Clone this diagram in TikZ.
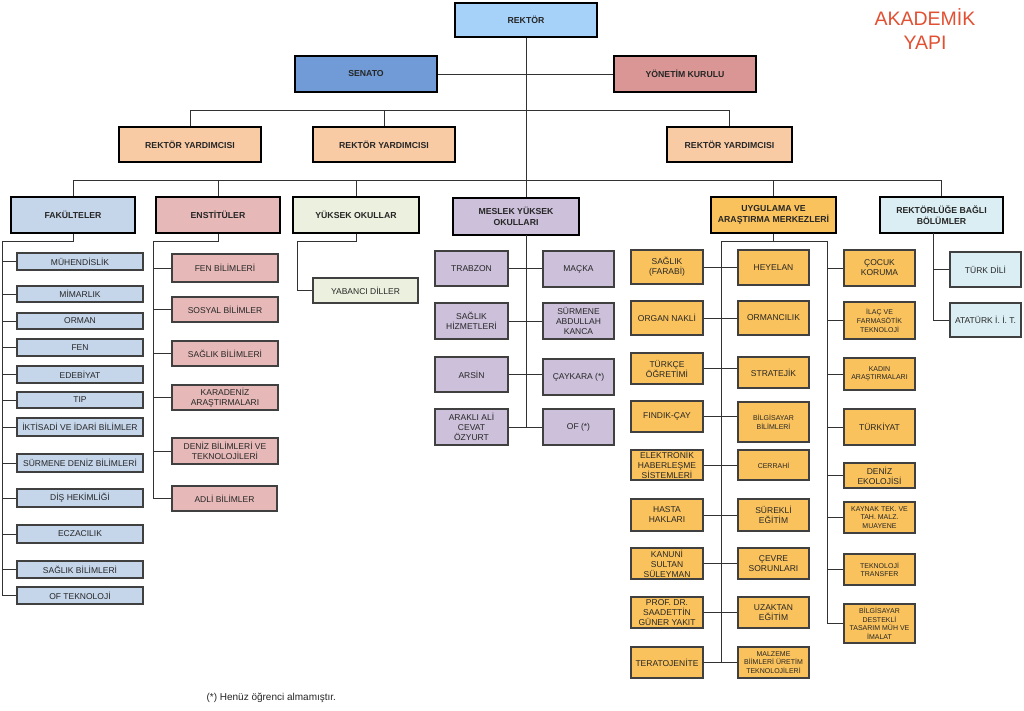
\documentclass[tikz,border=0pt]{standalone}
\usepackage{fontspec}
\setmainfont{Liberation Sans}
\definecolor{cRek}{RGB}{166,210,250}
\definecolor{cSen}{RGB}{112,155,214}
\definecolor{cYon}{RGB}{218,150,148}
\definecolor{cRy}{RGB}{248,203,165}
\definecolor{cFak}{RGB}{197,213,234}
\definecolor{cEns}{RGB}{230,185,184}
\definecolor{cYuk}{RGB}{235,241,222}
\definecolor{cMes}{RGB}{204,192,218}
\definecolor{cUyg}{RGB}{250,194,92}
\definecolor{cRb}{RGB}{219,238,244}
\definecolor{cLine}{RGB}{50,50,50}
\definecolor{cTitle}{RGB}{226,80,50}
\tikzset{
 base/.style={rectangle, align=center, inner sep=1pt, text=black!85},
 head/.style={base, draw=black, line width=2.4pt, font=\bfseries\fontsize{8.7}{10.5}\selectfont},
 child/.style={base, draw=black!75, line width=1.2pt, font=\fontsize{8.5}{10}\selectfont},
 small/.style={font=\fontsize{7}{8.6}\selectfont},
 conn/.style={draw=cLine, line width=0.9pt},
}
\newcommand\bx[7]{\node[#1,minimum width={#4-#2},minimum height={#5-#3}] (#6) at ({(#2+#4)/2},{(#3+#5)/2}) {#7};}
\begin{document}
\begin{tikzpicture}[x=1pt,y=-1pt]
\useasboundingbox[fill=white] (0,0) rectangle (1024,711);
% title
\node[text=cTitle, font=\fontsize{19.5}{24}\selectfont, align=center] (title) at (925,29) {AKADEM\.IK\\YAPI};
\node[anchor=west, font=\fontsize{10}{12}\selectfont, text=black!85] (note) at (203,698) {(*) Henüz öğrenci almamıştır.};
% top level
\bx{head,fill=cRek}{455}{3}{597}{37}{rektor}{REKTÖR}
\bx{head,fill=cSen}{295}{56}{437}{92}{senato}{SENATO}
\bx{head,fill=cYon}{614}{56}{756}{92}{yonetim}{YÖNET\.IM KURULU}
\bx{head,fill=cRy}{119}{127}{261}{162}{ry1}{REKTÖR YARDIMCISI}
\bx{head,fill=cRy}{313}{127}{455}{162}{ry2}{REKTÖR YARDIMCISI}
\bx{head,fill=cRy}{667}{127}{792}{162}{ry3}{REKTÖR YARDIMCISI}
% second level
\bx{head,fill=cFak}{11}{197}{135}{233}{fak}{FAKÜLTELER}
\bx{head,fill=cEns}{156}{197}{280}{233}{enst}{ENST\.ITÜLER}
\bx{head,fill=cYuk}{293}{197}{419}{233}{yuk}{YÜKSEK OKULLAR}
\bx{head,fill=cMes}{453}{198}{579}{235}{meslek}{MESLEK YÜKSEK\\OKULLARI}
\bx{head,fill=cUyg}{711}{197}{836}{233}{uyg}{UYGULAMA VE\\ARAŞTIRMA MERKEZLER\.I}
\bx{head,fill=cRb}{880}{197}{1003}{233}{rb}{REKTÖRLÜĞE BAĞLI\\BÖLÜMLER}
% fakulteler
\bx{child,fill=cFak}{17}{253}{143}{270}{f1}{MÜHEND\.ISL\.IK}
\bx{child,fill=cFak}{17}{286}{143}{302}{f2}{M\.IMARLIK}
\bx{child,fill=cFak}{17}{313}{143}{329}{f3}{ORMAN}
\bx{child,fill=cFak}{17}{339}{143}{356}{f4}{FEN}
\bx{child,fill=cFak}{17}{366}{143}{383}{f5}{EDEB\.IYAT}
\bx{child,fill=cFak}{17}{392}{143}{408}{f6}{TIP}
\bx{child,fill=cFak}{17}{418}{143}{436}{f7}{\.IKT\.ISAD\.I VE \.IDAR\.I B\.IL\.IMLER}
\bx{child,fill=cFak}{17}{454}{143}{472}{f8}{SÜRMENE DEN\.IZ B\.IL\.IMLER\.I}
\bx{child,fill=cFak}{17}{489}{143}{507}{f9}{D\.IŞ HEK\.IML\.IĞ\.I}
\bx{child,fill=cFak}{17}{525}{143}{543}{f10}{ECZACILIK}
\bx{child,fill=cFak}{17}{561}{143}{578}{f11}{SAĞLIK B\.IL\.IMLER\.I}
\bx{child,fill=cFak}{17}{587}{143}{604}{f12}{OF TEKNOLOJ\.I}
% enstituler
\bx{child,fill=cEns}{172}{254}{278}{282}{e1}{FEN B\.IL\.IMLER\.I}
\bx{child,fill=cEns}{172}{297}{278}{322}{e2}{SOSYAL B\.IL\.IMLER}
\bx{child,fill=cEns}{172}{341}{278}{366}{e3}{SAĞLIK B\.IL\.IMLER\.I}
\bx{child,fill=cEns}{172}{385}{278}{410}{e4}{KARADEN\.IZ\\ARAŞTIRMALARI}
\bx{child,fill=cEns}{172}{438}{278}{464}{e5}{DEN\.IZ B\.IL\.IMLER\.I VE\\TEKNOLOJ\.ILER\.I}
\bx{child,fill=cEns}{172}{486}{277}{511}{e6}{ADL\.I B\.IL\.IMLER}
% yuksek okullar
\bx{child,fill=cYuk}{313}{278}{418}{303}{y1}{YABANCI D\.ILLER}
% meslek yuksek okullari
\bx{child,fill=cMes}{435}{251}{508}{286}{ml1}{TRABZON}
\bx{child,fill=cMes}{543}{251}{614}{287}{mr1}{MAÇKA}
\bx{child,fill=cMes}{435}{303}{508}{339}{ml2}{SAĞLIK\\H\.IZMETLER\.I}
\bx{child,fill=cMes}{543}{303}{614}{339}{mr2}{SÜRMENE\\ABDULLAH\\KANCA}
\bx{child,fill=cMes}{435}{357}{508}{392}{ml3}{ARS\.IN}
\bx{child,fill=cMes}{543}{359}{614}{395}{mr3}{ÇAYKARA (*)}
\bx{child,fill=cMes}{435}{409}{508}{445}{ml4}{ARAKLI AL\.I\\CEVAT\\ÖZYURT}
\bx{child,fill=cMes}{543}{409}{614}{445}{mr4}{OF (*)}
% uygulama - left column
\bx{child,fill=cUyg}{631}{250}{703}{284}{ul1}{SAĞLIK\\(FARAB\.I)}
\bx{child,fill=cUyg}{631}{301}{703}{335}{ul2}{ORGAN NAKL\.I}
\bx{child,fill=cUyg}{631}{353}{703}{384}{ul3}{TÜRKÇE\\ÖĞRET\.IM\.I}
\bx{child,fill=cUyg}{631}{401}{703}{432}{ul4}{FINDIK-ÇAY}
\bx{child,fill=cUyg}{631}{450}{703}{480}{ul5}{ELEKTRON\.IK\\HABERLEŞME\\S\.ISTEMLER\.I}
\bx{child,fill=cUyg}{631}{499}{703}{531}{ul6}{HASTA\\HAKLARI}
\bx{child,fill=cUyg}{631}{548}{703}{579}{ul7}{KANUN\.I\\SULTAN\\SÜLEYMAN}
\bx{child,fill=cUyg}{631}{597}{703}{628}{ul8}{PROF. DR.\\SAADETT\.IN\\GÜNER YAKIT}
\bx{child,fill=cUyg}{631}{647}{703}{678}{ul9}{TERATOJEN\.ITE}
% uygulama - middle column
\bx{child,fill=cUyg}{738}{250}{809}{285}{um1}{HEYELAN}
\bx{child,fill=cUyg}{738}{301}{809}{335}{um2}{ORMANCILIK}
\bx{child,fill=cUyg}{738}{357}{809}{388}{um3}{STRATEJ\.IK}
\bx{child,fill=cUyg,small}{738}{402}{809}{442}{um4}{B\.ILG\.ISAYAR\\B\.IL\.IMLER\.I}
\bx{child,fill=cUyg,small}{738}{450}{809}{480}{um5}{CERRAH\.I}
\bx{child,fill=cUyg}{738}{499}{809}{531}{um6}{SÜREKL\.I\\EĞ\.IT\.IM}
\bx{child,fill=cUyg}{738}{548}{809}{579}{um7}{ÇEVRE\\SORUNLARI}
\bx{child,fill=cUyg}{738}{597}{809}{628}{um8}{UZAKTAN\\EĞ\.IT\.IM}
\bx{child,fill=cUyg,small}{738}{647}{809}{678}{um9}{MALZEME\\B\.I\.IMLER\.I ÜRET\.IM\\TEKNOLOJ\.ILER\.I}
% uygulama - right column
\bx{child,fill=cUyg}{844}{250}{915}{286}{ur1}{ÇOCUK\\KORUMA}
\bx{child,fill=cUyg,small}{844}{302}{915}{339}{ur2}{\.ILAÇ VE\\FARMASÖT\.IK\\TEKNOLOJ\.I}
\bx{child,fill=cUyg,small}{844}{358}{915}{390}{ur3}{KADIN\\ARAŞTIRMALARI}
\bx{child,fill=cUyg}{844}{409}{915}{445}{ur4}{TÜRK\.IYAT}
\bx{child,fill=cUyg}{844}{463}{915}{488}{ur5}{DEN\.IZ\\EKOLOJ\.IS\.I}
\bx{child,fill=cUyg,small}{844}{502}{915}{533}{ur6}{KAYNAK TEK. VE\\TAH. MALZ.\\MUAYENE}
\bx{child,fill=cUyg,small}{844}{554}{915}{585}{ur7}{TEKNOLOJ\.I\\TRANSFER}
\bx{child,fill=cUyg,small}{844}{604}{915}{643}{ur8}{B\.ILG\.ISAYAR\\DESTEKL\.I\\TASARIM MÜH VE\\\.IMALAT}
% rektorluge bagli
\bx{child,fill=cRb}{950}{252}{1021}{287}{rb1}{TÜRK D\.IL\.I}
\bx{child,fill=cRb}{950}{303}{1021}{337}{rb2}{ATATÜRK \.I. \.I. T.}
% ---------- connectors ----------
\coordinate (h1) at (0,110);
\coordinate (h2) at (0,180);
\draw[conn] (rektor.south) -- (rektor.south |- meslek.north);
\draw[conn] (senato.east) -- (yonetim.west);
\draw[conn] (ry1.north) -- (ry1.north |- h1) -- (ry3.north |- h1) -- (ry3.north);
\draw[conn] (ry2.north) -- (ry2.north |- h1);
\draw[conn] (fak.north) -- (fak.north |- h2) -- (rb.north |- h2) -- (rb.north);
\draw[conn] (enst.north) -- (enst.north |- h2);
\draw[conn] (yuk.north) -- (yuk.north |- h2);
\draw[conn] (uyg.north) -- (uyg.north |- h2);
% fakulteler
\coordinate (fv) at (2,241);
\draw[conn] (fak.south) -- (fak.south |- fv) -- (fv) -- (fv |- f12.west) -- (f12.west);
\foreach \n in {f1,f2,f3,f4,f5,f6,f7,f8,f9,f10,f11}{\draw[conn] (fv |- \n.west) -- (\n.west);}
% enstituler
\coordinate (ev) at (153,241);
\draw[conn] (enst.south) -- (enst.south |- ev) -- (ev) -- (ev |- e6.west) -- (e6.west);
\foreach \n in {e1,e2,e3,e4,e5}{\draw[conn] (ev |- \n.west) -- (\n.west);}
% yuksek okullar
\coordinate (yv) at (297,241);
\draw[conn] (yuk.south) -- (yuk.south |- yv) -- (yv) -- (yv |- y1.west) -- (y1.west);
% meslek
\coordinate (ms) at (526,235);
\draw[conn] (ms) -- (ms |- ml4.east);
\foreach \i in {1,...,4}{\draw[conn] (ml\i.east) -- (ml\i.east -| mr\i.west);}
% uygulama
\coordinate (uvl) at (721,241);
\coordinate (uvr) at (827,241);
\draw[conn] (uyg.south) -- (uyg.south |- uvl);
\draw[conn] (uvl) -- (uvr);
\draw[conn] (uvl) -- (uvl |- ul9.east);
\draw[conn] (uvr) -- (uvr |- ur8.west);
\foreach \i in {1,...,9}{\draw[conn] (ul\i.east) -- (ul\i.east -| um\i.west);}
\foreach \i in {1,...,8}{\draw[conn] (uvr |- ur\i.west) -- (ur\i.west);}
% rektorluge bagli
\coordinate (rv) at (933,233);
\draw[conn] (rv) -- (rv |- rb2.west) -- (rb2.west);
\draw[conn] (rv |- rb1.west) -- (rb1.west);
\end{tikzpicture}
\end{document}
